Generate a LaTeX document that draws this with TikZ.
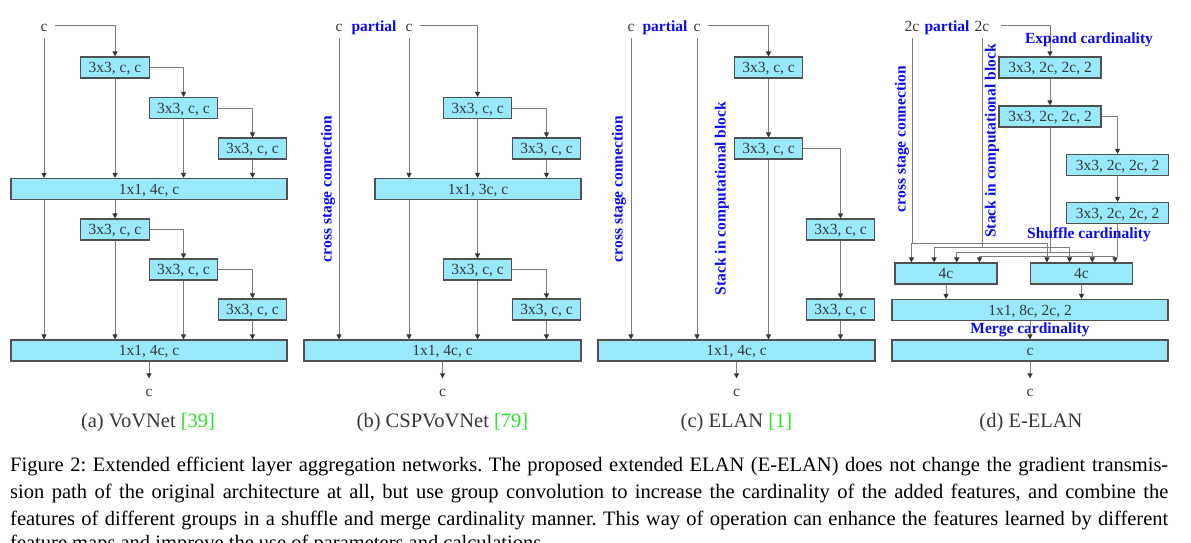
\documentclass[tikz,border=0pt]{standalone}
\usepackage{fontspec}
\setmainfont{Liberation Serif}
\usetikzlibrary{arrows.meta,calc}
\definecolor{boxfill}{RGB}{153,233,253}
\definecolor{boxline}{RGB}{80,80,80}
\definecolor{wire}{RGB}{125,125,125}
\definecolor{tipcol}{RGB}{55,55,55}
\definecolor{txt}{RGB}{55,55,55}
\definecolor{lblue}{RGB}{10,10,240}
\definecolor{citegreen}{RGB}{40,230,40}
\begin{document}
\frenchspacing
\begin{tikzpicture}[x=1pt,y=-1pt,
  box/.style={draw=boxline, fill=boxfill, line width=1.1pt, inner sep=0pt, text=txt,
    font=\fontsize{15.5}{18}\selectfont, text height=10.5pt, text depth=0pt, minimum height=21pt},
  sbox/.style={box, minimum width=68.5pt},
  wbox/.style={box, minimum width=102pt},
  bigbox/.style={box, minimum width=276pt},
  ln/.style={draw=wire, line width=0.9pt},
  arr/.style={ln, -{Triangle[length=5pt,width=5pt,color=tipcol]}},
  io/.style={text=txt, font=\fontsize{15.5}{18}\selectfont, text height=10.5pt, text depth=0pt,
    inner xsep=7.5pt, inner ysep=7pt, anchor=base},
  note/.style={text=lblue, font=\fontsize{15.5}{18}\selectfont\bfseries, inner sep=0pt},
  sub/.style={text=txt, font=\fontsize{20.5}{24}\selectfont, anchor=base, inner sep=0pt},
  capline/.style={anchor=base west, inner sep=0pt, font=\fontsize{20.5}{27}\selectfont\frenchspacing}
]
\useasboundingbox (0,0) rectangle (1191,542);
\clip (0,0) rectangle (1191,542);
\fill[white] (0,0) rectangle (1191,542);

%%%%%%%%%%%%%%%% (a) VoVNet
\node[io] (ain) at (44,31) {c};
\node[sbox] (a1) at (115,67.5) {3x3, c, c};
\node[sbox] (a2) at (183.5,108) {3x3, c, c};
\node[sbox] (a3) at (252.5,148.5) {3x3, c, c};
\node[bigbox] (aB1) at (149,189) {1x1, 4c, c};
\node[sbox] (a4) at (115,229.5) {3x3, c, c};
\node[sbox] (a5) at (183.5,269.5) {3x3, c, c};
\node[sbox] (a6) at (252.5,309.5) {3x3, c, c};
\node[bigbox] (aB2) at (149,350.5) {1x1, 4c, c};
\node[io] (aout) at (149,396) {c};
\node[sub] (acap) at (148,427) {(a) VoVNet {\color{citegreen}[39]}};

\draw[arr] (ain.east) -| (a1.north);
\draw[arr] (ain.south) -- (ain.south |- aB1.north);
\draw[arr] (a1.east) -| (a2.north);
\draw[arr] (a2.east) -| (a3.north);
\draw[arr] (a1.south) -- (a1.south |- aB1.north);
\draw[arr] (a2.south) -- (a2.south |- aB1.north);
\draw[arr] (a3.south) -- (a3.south |- aB1.north);
\draw[arr] (ain.south |- aB1.south) -- (ain.south |- aB2.north);
\draw[arr] (a4.north |- aB1.south) -- (a4.north);
\draw[arr] (a4.east) -| (a5.north);
\draw[arr] (a5.east) -| (a6.north);
\draw[arr] (a4.south) -- (a4.south |- aB2.north);
\draw[arr] (a5.south) -- (a5.south |- aB2.north);
\draw[arr] (a6.south) -- (a6.south |- aB2.north);
\draw[arr] (aB2.south) -- (aout.north);

%%%%%%%%%%%%%%%% (b) CSPVoVNet
\node[io] (bin1) at (339,31) {c};
\node[note, anchor=base] (bpart) at (374,31) {partial};
\node[io] (bin2) at (409,31) {c};
\node[sbox] (b1) at (477.5,108) {3x3, c, c};
\node[sbox] (b2) at (546.5,148.5) {3x3, c, c};
\node[box, minimum width=206pt] (bM) at (478,189) {1x1, 3c, c};
\node[sbox] (b3) at (477.5,269.5) {3x3, c, c};
\node[sbox] (b4) at (546.5,309.5) {3x3, c, c};
\node[bigbox, minimum width=277pt] (bB) at (442.5,350.5) {1x1, 4c, c};
\node[io] (bout) at (442.5,396) {c};
\node[sub] (bcap) at (442.5,427) {(b) CSPVoVNet {\color{citegreen}[79]}};
\node[note, rotate=90] (bcs) at (328,189) {cross stage connection};

\draw[arr] (bin1.south) -- (bin1.south |- bB.north);
\draw[arr] (bin2.south) -- (bin2.south |- bM.north);
\draw[arr] (bin2.south |- bM.south) -- (bin2.south |- bB.north);
\draw[arr] (bin2.east) -| (b1.north);
\draw[arr] (b1.east) -| (b2.north);
\draw[arr] (b1.south) -- (b1.south |- bM.north);
\draw[arr] (b2.south) -- (b2.south |- bM.north);
\draw[arr] (b3.north |- bM.south) -- (b3.north);
\draw[arr] (b3.east) -| (b4.north);
\draw[arr] (b3.south) -- (b3.south |- bB.north);
\draw[arr] (b4.south) -- (b4.south |- bB.north);
\draw[arr] (bB.south) -- (bout.north);

%%%%%%%%%%%%%%%% (c) ELAN
\node[io] (cin1) at (631,31) {c};
\node[note, anchor=base] (cpart) at (665,31) {partial};
\node[io] (cin2) at (697,31) {c};
\node[sbox] (c1) at (768.5,67.5) {3x3, c, c};
\node[sbox] (c2) at (768.5,148.5) {3x3, c, c};
\node[sbox] (c3) at (840.5,229.5) {3x3, c, c};
\node[sbox] (c4) at (840.5,309.5) {3x3, c, c};
\node[bigbox, minimum width=277pt] (cB) at (736.5,350.5) {1x1, 4c, c};
\node[io] (cout) at (736.5,396) {c};
\node[sub] (ccap) at (736.5,427) {(c) ELAN {\color{citegreen}[1]}};
\node[note, rotate=90] (ccs) at (619,189) {cross stage connection};
\node[note, rotate=90] (cst) at (722,198.5) {Stack in computational block};

\draw[arr] (cin1.south) -- (cin1.south |- cB.north);
\draw[arr] (cin2.south) -- (cin2.south |- cB.north);
\draw[arr] (cin2.east) -| (c1.north);
\draw[arr] (c1.south) -- (c2.north);
\draw[arr] (c2.south) -- (c2.south |- cB.north);
\draw[arr] (c2.east) -| (c3.north);
\draw[arr] (c3.south) -- (c4.north);
\draw[arr] (c4.south) -- (c4.south |- cB.north);
\draw[arr] (cB.south) -- (cout.north);

%%%%%%%%%%%%%%%% (d) E-ELAN
\node[io] (din1) at (912,31) {2c};
\node[note, anchor=base] (dpart) at (947,31) {partial};
\node[io, inner xsep=11.5pt] (din2) at (982,31) {2c};
\node[wbox] (d1) at (1050,67.5) {3x3, 2c, 2c, 2};
\node[wbox] (d2) at (1050,116.5) {3x3, 2c, 2c, 2};
\node[wbox] (d3) at (1117.5,165) {3x3, 2c, 2c, 2};
\node[wbox] (d4) at (1117.5,213) {3x3, 2c, 2c, 2};
\node[wbox] (g1) at (946,273.5) {4c};
\node[wbox] (g2) at (1081.5,273.5) {4c};
\node[bigbox] (dM) at (1030,310) {1x1, 8c, 2c, 2};
\node[bigbox] (dC) at (1030,350.5) {c};
\node[io] (dout) at (1030,396) {c};
\node[sub] (dcap) at (1031,427) {(d) E-ELAN};
\node[note, rotate=90] (dcs) at (902,139) {cross stage connection};
\node[note, rotate=90] (dst) at (992,141) {Stack in computational block};

\coordinate (y1) at (0,243);
\coordinate (y2) at (0,247.5);
\coordinate (y3) at (0,252);
\coordinate (y4) at (0,256.5);
\path (g1.north west) ++(17,0) coordinate (g1a) ++(22.67,0) coordinate (g1b) ++(22.67,0) coordinate (g1c) ++(22.67,0) coordinate (g1d);
\path (g2.north west) ++(17,0) coordinate (g2a) ++(22.67,0) coordinate (g2b) ++(22.67,0) coordinate (g2c) ++(22.67,0) coordinate (g2d);

\draw[arr] (din2.east) -| (d1.north);
\draw[arr] (d1.south) -- (d2.north);
\draw[arr] (d2.east) -| (d3.north);
\draw[arr] (d3.south) -- (d4.north);

\draw[ln] (din1.south) -- (din1.south |- y1);
\draw[ln] (g1a |- y1) -- (g2a |- y1);
\draw[arr] (g1a |- y1) -- (g1a);
\draw[arr] (g2a |- y1) -- (g2a);

\draw[ln] (din2.south) -- (din2.south |- y2);
\draw[ln] (g1b |- y2) -- (g2b |- y2);
\draw[arr] (g1b |- y2) -- (g1b);
\draw[arr] (g2b |- y2) -- (g2b);

\draw[ln] (d2.south) -- (d2.south |- y3);
\draw[ln] (g1c |- y3) -- (g2c |- y3);
\draw[arr] (g1c |- y3) -- (g1c);
\draw[arr] (g2c |- y3) -- (g2c);

\draw[ln] (d4.south) -- (d4.south |- y4);
\draw[ln] (g1d |- y4) -- (g2d |- y4);
\draw[arr] (g1d |- y4) -- (g1d);
\draw[arr] (g2d |- y4) -- (g2d);

\draw[arr] (g1.south) -- (g1.south |- dM.north);
\draw[arr] (g2.south) -- (g2.south |- dM.north);

\node[note, anchor=base] (dexp) at (1089,43) {Expand cardinality};
\node[note, anchor=base] (dshu) at (1089,238) {Shuffle cardinality};
\node[note, anchor=base] (dmer) at (1030,333) {Merge cardinality};

\draw[arr] (dM.south) -- (dC.north);
\draw[arr] (dC.south) -- (dout.north);

%%%%%%%%%%%%%%%% caption
\node[capline] (cap1) at (10,471) {\makebox[1158pt][s]{Figure 2: Extended efficient layer aggregation networks. The proposed extended ELAN (E-ELAN) does not change the gradient transmis-}};
\node[capline] (cap2) at (10,498) {\makebox[1158pt][s]{sion path of the original architecture at all, but use group convolution to increase the cardinality of the added features, and combine the}};
\node[capline] (cap3) at (10,525) {\makebox[1158pt][s]{features of different groups in a shuffle and merge cardinality manner. This way of operation can enhance the features learned by different}};
\node[capline] (cap4) at (10,549) {feature maps and improve the use of parameters and calculations.};
\end{tikzpicture}
\end{document}
